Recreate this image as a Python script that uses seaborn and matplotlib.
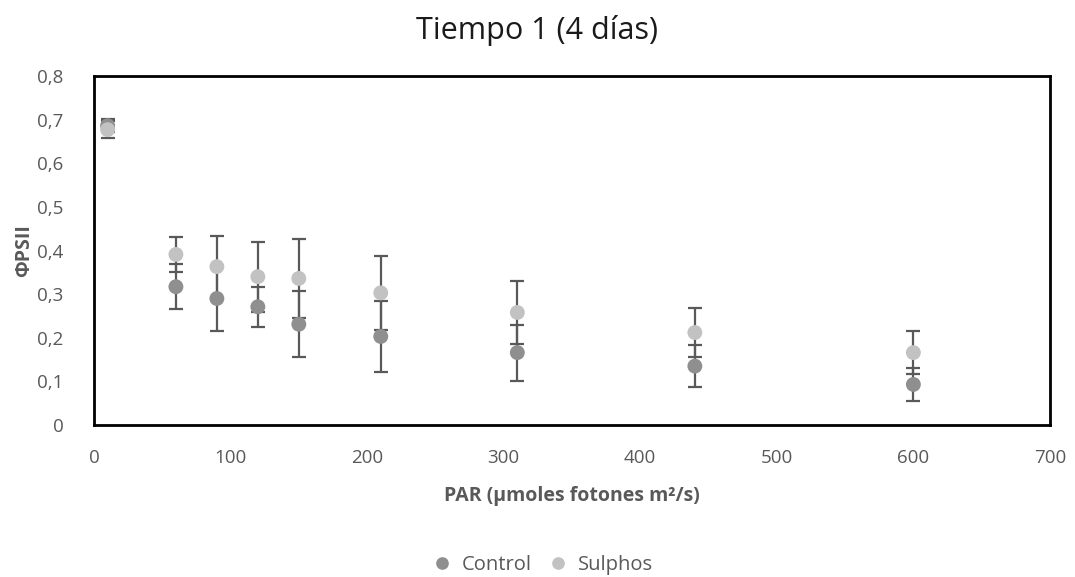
import matplotlib
matplotlib.use("Agg")
import matplotlib.pyplot as plt
import seaborn as sns
import pandas as pd

par = [10, 60, 90, 120, 150, 210, 310, 440, 600]
control = [0.686, 0.317, 0.290, 0.271, 0.231, 0.203, 0.166, 0.135, 0.093]
control_err = [0.015, 0.052, 0.075, 0.046, 0.076, 0.082, 0.064, 0.048, 0.038]
sulphos = [0.677, 0.391, 0.363, 0.340, 0.336, 0.303, 0.258, 0.212, 0.166]
sulphos_err = [0.020, 0.041, 0.071, 0.080, 0.090, 0.085, 0.073, 0.056, 0.050]
series = ["Control", "Sulphos"]
colors = {"Control": "#8f8f8f", "Sulphos": "#c2c2c2"}
xticks = [0, 100, 200, 300, 400, 500, 600, 700]
yticks = [0, 0.1, 0.2, 0.3, 0.4, 0.5, 0.6, 0.7, 0.8]

df = pd.DataFrame({
    "PAR": par * 2,
    "val": control + sulphos,
    "err": control_err + sulphos_err,
    "Serie": [series[0]] * len(par) + [series[1]] * len(par),
})

sns.set_theme(style="white")
plt.rcParams["font.family"] = ["Open Sans", "DejaVu Sans"]

fig = plt.figure(figsize=(10.75, 5.77), dpi=100)
ax = fig.add_axes([0.0874, 0.2634, 0.8893, 0.6049])

for s in series:
    d = df[df["Serie"] == s]
    ax.errorbar(d["PAR"], d["val"], yerr=d["err"], fmt="none",
                ecolor="#595959", elinewidth=1.6, capsize=5, capthick=1.6, zorder=2)

sns.scatterplot(data=df, x="PAR", y="val", hue="Serie", palette=colors,
                s=115, edgecolor="none", ax=ax, zorder=3, legend=True)

ax.set_xlim(0, 700)
ax.set_ylim(0, 0.8)
ax.set_xticks(xticks)
ax.set_yticks(yticks)
ax.set_xticklabels([str(v) for v in xticks])
ax.set_yticklabels(["0" if v == 0 else f"{v:.1f}".replace(".", ",") for v in yticks])
ax.tick_params(axis="both", direction="in", length=5, width=1.5, color="black",
               labelsize=13.5, labelcolor="#595959")
ax.tick_params(axis="x", pad=17)
ax.tick_params(axis="y", pad=22)
for sp in ax.spines.values():
    sp.set_color("black")
    sp.set_linewidth(2)

ax.set_xlabel("PAR (µmoles fotones m²/s)", fontsize=14, fontweight="bold",
              color="#595959", labelpad=14)
ax.set_ylabel("ΦPSII", fontsize=14, fontweight="bold", color="#595959", labelpad=2)
fig.text(0.5, 0.948, "Tiempo 1 (4 días)", ha="center", va="center",
         fontsize=22, color="#1a1a1a")

handles, labels = ax.get_legend_handles_labels()
ax.legend(handles=handles, labels=labels, loc="center", bbox_to_anchor=(0.5, 0.0215),
          bbox_transform=fig.transFigure, ncol=2, frameon=False, fontsize=14.5,
          handletextpad=0.0, columnspacing=0.3, markerscale=0.85,
          labelcolor="#595959")

fig.savefig("out.png", dpi=100)
